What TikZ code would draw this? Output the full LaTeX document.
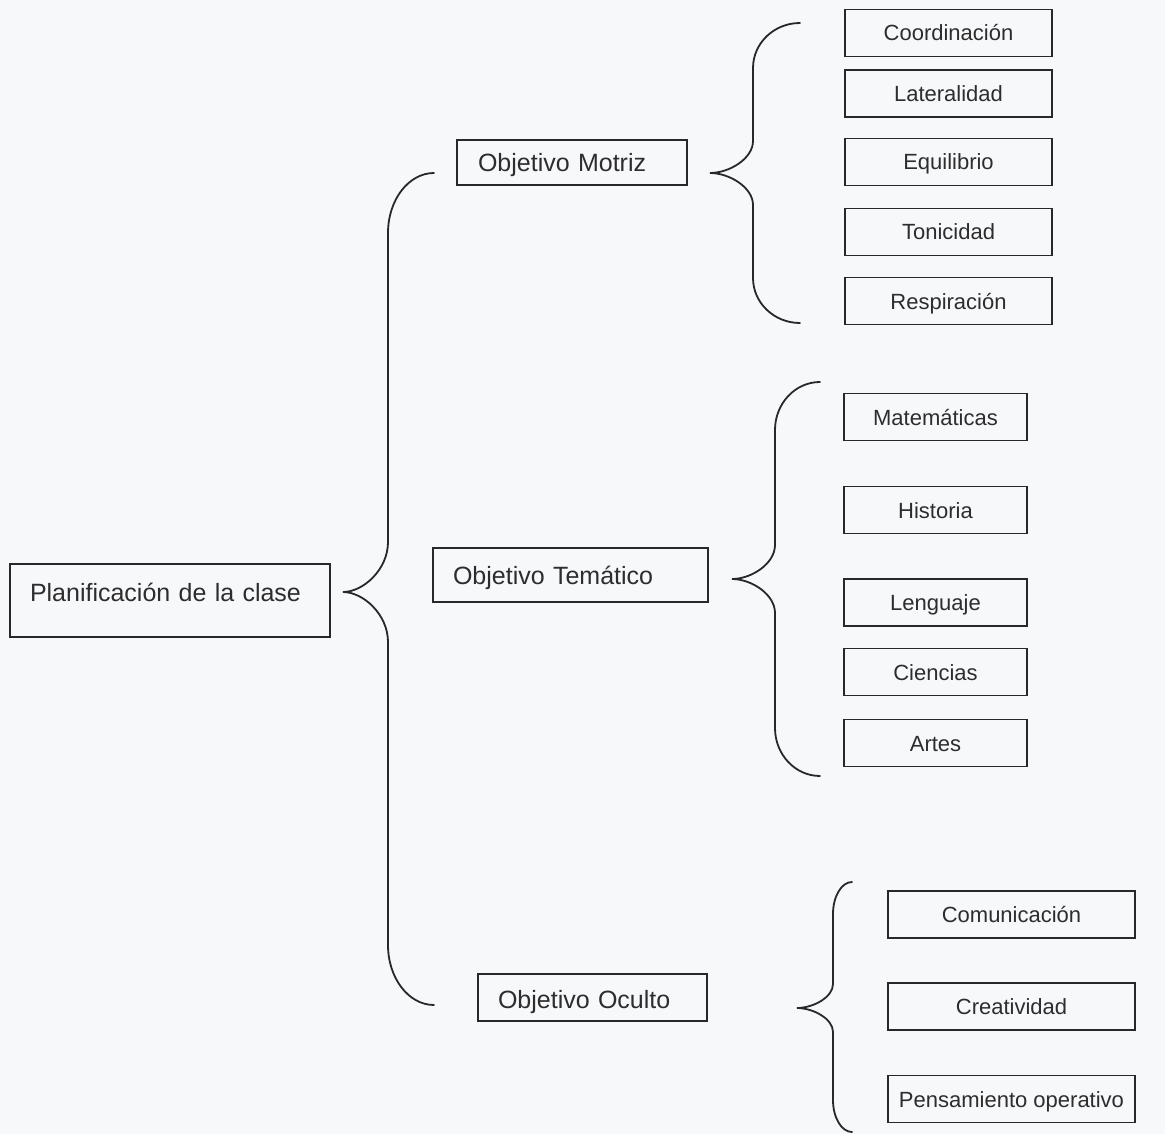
\documentclass[tikz,border=0pt]{standalone}
\usepackage{fontspec}
\setmainfont{Liberation Sans}
\definecolor{bgc}{RGB}{247,248,250}
\definecolor{linec}{RGB}{40,40,40}
\definecolor{textc}{RGB}{45,45,45}
% #1 end x, #2 vertical x, #3 tip x, #4 top y, #5 tip y, #6 bottom y, #7 end radius, #8 tip radius
\newcommand\bracepath[8]{%
  \draw[bracestyle] (#1,#4) .. controls ({#1-0.552*(#1-#2)},#4) and (#2,{#4+0.448*#7}) .. (#2,{#4+#7})
    -- (#2,{#5-#8})
    .. controls (#2,{#5-0.448*#8}) and ({#2-0.552*(#2-#3)},#5) .. (#3,#5)
    .. controls ({#2-0.552*(#2-#3)},#5) and (#2,{#5+0.448*#8}) .. (#2,{#5+#8})
    -- (#2,{#6-#7})
    .. controls (#2,{#6-0.448*#7}) and ({#1-0.552*(#1-#2)},#6) .. (#1,#6);}
\tikzset{
  bigbox/.style={draw=linec, line width=1.8pt, rectangle, inner ysep=0pt,
    align=left, text=textc, font=\fontsize{25pt}{30pt}\selectfont,
    text height=18pt, text depth=0pt},
  leafbox/.style={draw=linec, line width=1.8pt, rectangle, inner sep=0pt,
    minimum height=47pt, align=center, text=textc,
    font=\fontsize{22pt}{26pt}\selectfont, text height=16pt, text depth=0pt},
  bracestyle/.style={draw=linec, line width=1.8pt, line cap=round}
}
\begin{document}
\begin{tikzpicture}[x=1pt,y=-1pt]
\fill[bgc] (0,0) rectangle (1165,1134);
\useasboundingbox (0,0) rectangle (1165,1134);

% main
\node[bigbox, minimum height=73pt, inner xsep=20pt, text width=280pt,
      text height=20pt, text depth=19pt] (plan) at (170,600.5) {Planificación de la clase};

% level 2
\node[bigbox, minimum height=45pt, inner xsep=21pt, text width=188pt] (motriz) at (572,162.5) {Objetivo Motriz};
\node[bigbox, minimum height=54pt, inner xsep=20pt, text width=235pt] (tematico) at (570.5,575) {Objetivo Temático};
\node[bigbox, minimum height=47pt, inner xsep=20pt, text width=189pt,
      text height=21pt, text depth=0pt] (oculto) at (592.5,997.5) {Objetivo Oculto};

% leaves motriz
\node[leafbox, minimum width=207pt] (coord) at (948.5,33) {Coordinación};
\node[leafbox, minimum width=207pt] (later) at (948.5,93.5) {Lateralidad};
\node[leafbox, minimum width=207pt] (equil) at (948.5,162) {Equilibrio};
\node[leafbox, minimum width=207pt] (tonic) at (948.5,232) {Tonicidad};
\node[leafbox, minimum width=207pt] (resp) at (948.5,301) {Respiración};

% leaves tematico
\node[leafbox, minimum width=183pt] (mate) at (935.5,417) {Matemáticas};
\node[leafbox, minimum width=183pt] (hist) at (935.5,510) {Historia};
\node[leafbox, minimum width=183pt] (leng) at (935.5,602.5) {Lenguaje};
\node[leafbox, minimum width=183pt] (cien) at (935.5,672) {Ciencias};
\node[leafbox, minimum width=183pt] (artes) at (935.5,743) {Artes};

% leaves oculto
\node[leafbox, minimum width=247pt] (comu) at (1011.5,914.5) {Comunicación};
\node[leafbox, minimum width=247pt] (crea) at (1011.5,1006.5) {Creatividad};
\node[leafbox, minimum width=247pt] (pens) at (1011.5,1099) {Pensamiento operativo};

% braces
\bracepath{434}{388}{343}{173}{592}{1005}{60}{50}
\bracepath{800}{753}{710}{23}{173}{323}{45}{32}
\bracepath{820}{775}{732}{382}{579}{776}{48}{34}
\bracepath{852}{833}{797}{882}{1008}{1132}{32}{24}
\end{tikzpicture}
\end{document}
